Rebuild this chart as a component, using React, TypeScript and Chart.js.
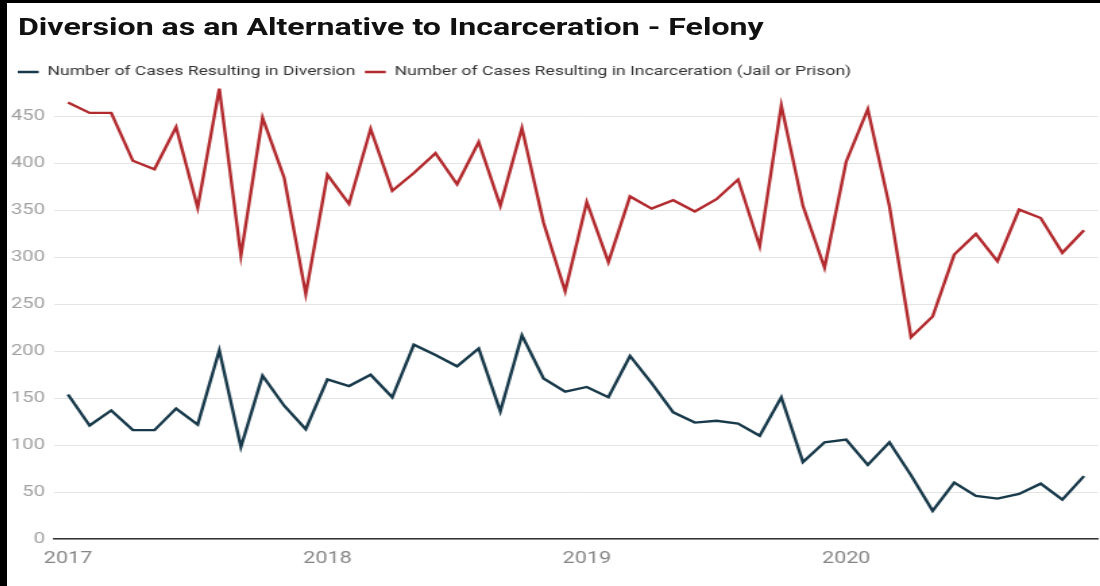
import React, { useEffect, useRef } from 'react';
import { Chart, registerables } from 'chart.js';

Chart.register(...registerables);

const title = 'Diversion as an Alternative to Incarceration - Felony';
const seriesNames = [
  'Number of Cases Resulting in Diversion',
  'Number of Cases Resulting in Incarceration (Jail or Prison)',
];
const years = ['2017', '2018', '2019', '2020'];
const monthsPerYear = 12;

const diversion = [
  154, 121, 137, 116, 116, 139, 122, 201, 98, 174, 142, 117,
  170, 163, 175, 151, 207, 196, 184, 203, 136, 217, 171, 157,
  162, 151, 195, 166, 135, 124, 126, 123, 110, 151, 82, 103,
  106, 79, 103, 68, 30, 60, 46, 43, 48, 59, 42, 67,
];
const incarceration = [
  465, 454, 454, 403, 394, 439, 353, 480, 302, 449, 385, 261,
  388, 357, 437, 371, 390, 411, 378, 423, 355, 438, 337, 264,
  359, 295, 365, 352, 361, 349, 362, 383, 312, 462, 355, 289,
  402, 458, 355, 215, 237, 303, 325, 296, 351, 342, 305, 329,
];
const yTicks = [0, 50, 100, 150, 200, 250, 300, 350, 400, 450];

const seriesColors = ['#17394a', '#b22a2e'];

// the reference is a horizontally stretched image
const CANVAS_W = 810;
const CANVAS_H = 583;
const STRETCH = 1093 / CANVAS_W;

export default function App() {
  const ref = useRef<HTMLCanvasElement>(null);

  useEffect(() => {
    document.body.style.margin = '0';
    const canvas = ref.current!;
    const chart = new Chart(canvas, {
      type: 'line',
      data: {
        datasets: [
          {
            label: seriesNames[0],
            data: diversion.map((v, i) => ({ x: i, y: v })),
            borderColor: seriesColors[0],
            backgroundColor: seriesColors[0],
            borderWidth: 2.4,
            pointRadius: 0,
            tension: 0,
          },
          {
            label: seriesNames[1],
            data: incarceration.map((v, i) => ({ x: i, y: v })),
            borderColor: seriesColors[1],
            backgroundColor: seriesColors[1],
            borderWidth: 2.4,
            pointRadius: 0,
            tension: 0,
          },
        ],
      },
      options: {
        animation: false,
        responsive: false,
        devicePixelRatio: 1,
        layout: { padding: { left: 1, right: 1.5, top: 55.5, bottom: 0 } },
        plugins: {
          title: { display: false },
          tooltip: { enabled: false },
          legend: {
            display: true,
            align: 'start',
            labels: {
              usePointStyle: true,
              pointStyle: 'line',
              pointStyleWidth: 15.5,
              padding: 7,
              color: '#333333',
              font: { family: 'Roboto', size: 13 },
            },
          },
        },
        scales: {
          x: {
            type: 'linear',
            min: -0.647,
            max: 47.65,
            afterBuildTicks: (s: any) => {
              s.ticks = years.map((_, k) => ({ value: k * monthsPerYear }));
            },
            afterFit: (s: any) => {
              s.height = 47;
            },
            ticks: {
              autoSkip: false,
              maxRotation: 0,
              padding: 10.4,
              color: '#858585',
              font: { family: 'Roboto', size: 16 },
              callback: (v: any) => years[Math.round(Number(v) / monthsPerYear)] ?? '',
            },
            grid: { display: false, drawTicks: false },
            border: { display: true, color: '#333333', width: 1.5 },
          },
          y: {
            min: 0,
            max: 480,
            afterBuildTicks: (s: any) => {
              s.ticks = yTicks.map((v) => ({ value: v }));
            },
            afterFit: (s: any) => {
              s.width = 33.83;
            },
            ticks: {
              padding: 6.6,
              color: '#a0a0a0',
              font: { family: 'Roboto', size: 15 },
            },
            grid: { color: '#e4e4e4', lineWidth: 1, drawTicks: false },
            border: { display: false },
          },
        },
      },
    } as any);
    return () => chart.destroy();
  }, []);

  return (
    <div
      style={{
        position: 'absolute',
        left: 0,
        top: 0,
        width: 1100,
        height: 586,
        boxSizing: 'border-box',
        borderLeft: '7px solid #000',
        borderTop: '3px solid #000',
        background: '#fff',
        overflow: 'hidden',
      }}
    >
      <div
        style={{
          position: 'absolute',
          left: 0,
          top: 0,
          width: CANVAS_W,
          height: CANVAS_H,
          transform: `scaleX(${STRETCH})`,
          transformOrigin: '0 0',
        }}
      >
        <canvas
          ref={ref}
          width={CANVAS_W}
          height={CANVAS_H}
          style={{ position: 'absolute', left: 0, top: 0, width: CANVAS_W, height: CANVAS_H }}
        />
        <div
          style={{
            position: 'absolute',
            left: 8.15,
            top: 9.5,
            fontFamily: 'Roboto',
            fontWeight: 700,
            fontSize: 23.8,
            lineHeight: '28px',
            color: '#111111',
            whiteSpace: 'nowrap',
          }}
        >
          {title}
        </div>
      </div>
    </div>
  );
}
